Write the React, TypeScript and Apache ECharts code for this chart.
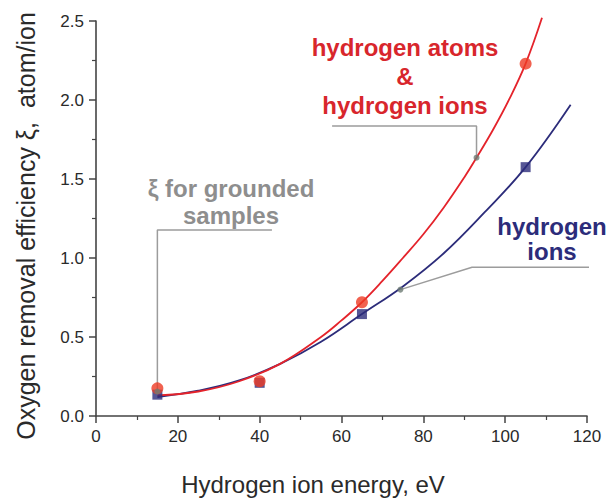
import React, { useEffect, useRef } from "react";
import * as echarts from "echarts";

// Measured oxygen removal efficiency vs. hydrogen ion energy
const energy = [15, 40, 65, 105];
const xiAtomsIons = [0.175, 0.22, 0.72, 2.23];
const xiIons = [0.135, 0.21, 0.645, 1.575];

// Fitted curves
const fitEnergyAtomsIons = [15, 25, 35, 45, 55, 60, 65, 70, 75, 80, 85, 90, 93, 97, 101, 105, 109];
const fitXiAtomsIons = [0.13, 0.155, 0.22, 0.33, 0.5, 0.605, 0.72, 0.855, 1.0, 1.15, 1.32, 1.51, 1.635, 1.81, 2.005, 2.23, 2.52];
const fitEnergyIons = [15, 25, 35, 45, 55, 65, 75, 85, 95, 105, 116];
const fitXiIons = [0.12, 0.16, 0.225, 0.33, 0.47, 0.645, 0.82, 1.03, 1.29, 1.575, 1.97];

// Leader lines from the annotations to the curves
const groundedLeaderX = [15, 15, 43];
const groundedLeaderY = [0.155, 1.177, 1.177];
const atomsLeaderX = [93, 93, 57.7];
const atomsLeaderY = [1.635, 1.835, 1.835];
const ionsLeaderX = [74.4, 91.9, 126.4];
const ionsLeaderY = [0.8, 0.941, 0.941];

const xTicks = [0, 20, 40, 60, 80, 100, 120];
const yTicks = [0, 0.5, 1.0, 1.5, 2.0, 2.5];

const FONT = "'Liberation Sans', Arial, Helvetica, sans-serif";
const AXIS = "#444444";
const RED = "#e4232b";
const NAVY = "#2c2c7a";
const LEADER = "#9c9c9c";

const pairs = (xs: number[], ys: number[]) => xs.map((x, i) => [x, ys[i]]);

export default function App() {
  const ref = useRef<HTMLDivElement>(null);

  useEffect(() => {
    if (!ref.current) return;
    const chart = echarts.init(ref.current, undefined, { renderer: "svg" });

    const axisCommon = {
      type: "value" as const,
      axisLine: { show: true, lineStyle: { color: AXIS, width: 1.6 } },
      axisTick: { show: true, length: 7, lineStyle: { color: AXIS, width: 1.5 } },
      minorTick: { show: true, splitNumber: 2, length: 4, lineStyle: { color: AXIS, width: 1.2 } },
      splitLine: { show: false },
      minorSplitLine: { show: false },
    };

    const leader = (xs: number[], ys: number[]) => ({
      type: "line" as const,
      data: pairs(xs, ys),
      symbol: "none",
      clip: false,
      silent: true,
      lineStyle: { color: LEADER, width: 1.5 },
      z: 1,
    });

    chart.setOption({
      animation: false,
      backgroundColor: "#ffffff",
      grid: { left: 96, right: 26, top: 21, bottom: 82 },
      xAxis: {
        ...axisCommon,
        min: xTicks[0],
        max: xTicks[xTicks.length - 1],
        interval: 20,
        axisLabel: { fontSize: 17, color: "#2a2a2a", fontFamily: FONT, margin: 12 },
      },
      yAxis: {
        ...axisCommon,
        min: yTicks[0],
        max: yTicks[yTicks.length - 1],
        interval: 0.5,
        axisLabel: {
          fontSize: 17,
          color: "#2a2a2a",
          fontFamily: FONT,
          margin: 12,
          formatter: (v: number) => v.toFixed(1),
        },
      },
      series: [
        leader(groundedLeaderX, groundedLeaderY),
        leader(atomsLeaderX, atomsLeaderY),
        leader(ionsLeaderX, ionsLeaderY),
        {
          name: "hydrogen ions fit",
          type: "line",
          data: pairs(fitEnergyIons, fitXiIons),
          smooth: 0.4,
          showSymbol: false,
          symbol: "none",
          clip: false,
          lineStyle: { color: NAVY, width: 1.8 },
          z: 2,
        },
        {
          name: "hydrogen atoms & ions fit",
          type: "line",
          data: pairs(fitEnergyAtomsIons, fitXiAtomsIons),
          smooth: 0.4,
          showSymbol: false,
          symbol: "none",
          clip: false,
          lineStyle: { color: RED, width: 1.8 },
          z: 3,
        },
        {
          name: "hydrogen ions",
          type: "scatter",
          data: pairs(energy, xiIons),
          symbol: "rect",
          symbolSize: 10,
          itemStyle: { color: NAVY },
          z: 4,
        },
        {
          name: "hydrogen atoms & hydrogen ions",
          type: "scatter",
          data: pairs(energy, xiAtomsIons),
          symbol: "circle",
          symbolSize: 12,
          itemStyle: { color: "#ee3b24" },
          z: 5,
        },
        {
          name: "anchors",
          type: "scatter",
          data: [
            [groundedLeaderX[0], groundedLeaderY[0]],
            [atomsLeaderX[0], atomsLeaderY[0]],
            [ionsLeaderX[0], ionsLeaderY[0]],
          ],
          symbol: "circle",
          symbolSize: 6,
          itemStyle: { color: "#6e7c74" },
          z: 6,
        },
      ],
      graphic: [
        {
          type: "text",
          x: 26,
          y: 226,
          rotation: Math.PI / 2,
          style: {
            text: "Oxygen removal efficiency \u03be,  atom/ion",
            fontSize: 25,
            fontFamily: FONT,
            fill: "#2a2a2a",
            align: "center",
            verticalAlign: "middle",
          },
        },
        {
          type: "text",
          x: 313,
          y: 484,
          style: {
            text: "Hydrogen ion energy, eV",
            fontSize: 24,
            fontFamily: FONT,
            fill: "#2a2a2a",
            align: "center",
            verticalAlign: "middle",
          },
        },
        {
          type: "text",
          x: 231,
          y: 201.5,
          style: {
            text: "\u03be for grounded\nsamples",
            fontSize: 24,
            fontWeight: "bold",
            lineHeight: 27,
            fontFamily: FONT,
            fill: "#8e8e8e",
            align: "center",
            verticalAlign: "middle",
          },
        },
        {
          type: "text",
          x: 405,
          y: 76,
          style: {
            text: "hydrogen atoms\n&\nhydrogen ions",
            fontSize: 24,
            fontWeight: "bold",
            lineHeight: 29,
            fontFamily: FONT,
            fill: "#d8262c",
            align: "center",
            verticalAlign: "middle",
          },
        },
        {
          type: "text",
          x: 552,
          y: 239,
          style: {
            text: "hydrogen\nions",
            fontSize: 24,
            fontWeight: "bold",
            lineHeight: 25,
            fontFamily: FONT,
            fill: NAVY,
            align: "center",
            verticalAlign: "middle",
          },
        },
      ],
    });

    return () => chart.dispose();
  }, []);

  return (
    <div
      ref={ref}
      style={{ position: "absolute", left: 0, top: 0, width: 613, height: 498 }}
    />
  );
}
